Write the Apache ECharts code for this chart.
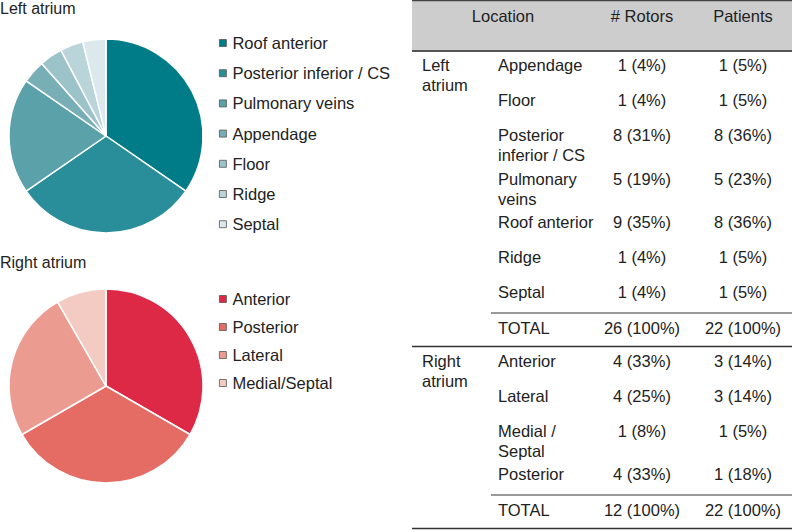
<!DOCTYPE html>
<html>
<head>
<meta charset="utf-8">
<script src="https://cdn.jsdelivr.net/npm/echarts@6/dist/echarts.min.js"></script>
<style>
html, body { margin: 0; padding: 0; background: #fff; }
#container { width: 792px; height: 532px; }
</style>
</head>
<body>
<div id="container"></div>
<script>
var dom = document.getElementById("container");
var myChart = echarts.init(dom, null, {renderer: 'svg'});

// pie data (rotor counts per location)
var laNames = ['Roof anterior', 'Posterior inferior / CS', 'Pulmonary veins', 'Appendage', 'Floor', 'Ridge', 'Septal'];
var laValues = [9, 8, 5, 1, 1, 1, 1];
var raNames = ['Anterior', 'Posterior', 'Lateral', 'Medial/Septal'];
var raValues = [4, 4, 3, 1];

// table
var tableHead = ['Location', '# Rotors', 'Patients'];
var laGroup = 'Left\natrium';
var laSites = ['Appendage', 'Floor', 'Posterior\ninferior / CS', 'Pulmonary\nveins', 'Roof anterior', 'Ridge', 'Septal'];
var laRotors = ['1 (4%)', '1 (4%)', '8 (31%)', '5 (19%)', '9 (35%)', '1 (4%)', '1 (4%)'];
var laPatients = ['1 (5%)', '1 (5%)', '8 (36%)', '5 (23%)', '8 (36%)', '1 (5%)', '1 (5%)'];
var laTotal = ['TOTAL', '26 (100%)', '22 (100%)'];
var raGroup = 'Right\natrium';
var raSites = ['Anterior', 'Lateral', 'Medial /\nSeptal', 'Posterior'];
var raRotors = ['4 (33%)', '4 (25%)', '1 (8%)', '4 (33%)'];
var raPatients = ['3 (14%)', '3 (14%)', '1 (5%)', '1 (18%)'];
var raTotal = ['TOTAL', '12 (100%)', '22 (100%)'];

// colours
var laColors = ['#007b88', '#2a8e9a', '#5aa1aa', '#78afb7', '#9cc3c9', '#bad5da', '#dbe9ec'];
var raColors = ['#dd2846', '#e56b65', '#ec9b91', '#f4cbc3'];

var FONT = 'Liberation Sans, Arial, Helvetica, sans-serif';
var TXT = '#222';

function pieData(names, values, colors) {
    var d = [];
    for (var i = 0; i < names.length; i++) {
        d.push({name: names[i], value: values[i], itemStyle: {color: colors[i]}});
    }
    return d;
}

function legendData(names) {
    return names.map(function (n) {
        return {name: n, itemStyle: {borderColor: '#555', borderWidth: 0.8}};
    });
}

// ---- table drawn with graphic elements ----
var graphics = [];
var tX = 412, tR = 792;
var colGroup = 422, colSite = 498, colRot = 642, colPat = 743;

function addText(str, x, y, align) {
    graphics.push({
        type: 'text', silent: true,
        style: {
            text: str, x: x, y: y - 10, fill: TXT,
            fontSize: 16.5, fontFamily: FONT,
            align: align || 'left', verticalAlign: 'top', lineHeight: 20
        }
    });
}
function addLine(x1, y, x2, color, w) {
    graphics.push({
        type: 'line', silent: true,
        shape: {x1: x1, y1: y, x2: x2, y2: y},
        style: {stroke: color, lineWidth: w}
    });
}

// header
graphics.push({
    type: 'rect', silent: true,
    shape: {x: tX, y: 0, width: tR - tX, height: 51},
    style: {fill: '#cdcdcd'}
});
addLine(tX, 0.5, tR, '#444', 1.5);
addLine(tX, 51, tR, '#555', 2);
addText(tableHead[0], 503, 16, 'center');
addText(tableHead[1], colRot, 16, 'center');
addText(tableHead[2], colPat, 16, 'center');

function section(y, group, sites, rot, pat, total) {
    addText(group, colGroup, y, 'left');
    var last = y;
    for (var i = 0; i < sites.length; i++) {
        addText(sites[i], colSite, y, 'left');
        addText(rot[i], colRot, y, 'center');
        addText(pat[i], colPat, y, 'center');
        last = y;
        y += sites[i].indexOf('\n') >= 0 ? 43.5 : 35;
    }
    var lineY = last + 21;
    addLine(491, lineY, tR, '#999', 2);
    var totY = lineY + 15;
    addText(total[0], colSite, totY, 'left');
    addText(total[1], colRot, totY, 'center');
    addText(total[2], colPat, totY, 'center');
    var endY = totY + 18.5;
    addLine(tX, endY, tR, '#333', 1.5);
    return endY;
}

var endLA = section(65, laGroup, laSites, laRotors, laPatients, laTotal);
section(endLA + 14, raGroup, raSites, raRotors, raPatients, raTotal);

option = {
    backgroundColor: '#fff',
    animation: false,
    title: [
        {text: 'Left atrium', left: 0, top: 0, padding: 0,
            textStyle: {fontSize: 16, fontWeight: 'normal', color: TXT, fontFamily: FONT}},
        {text: 'Right atrium', left: 0, top: 254, padding: 0,
            textStyle: {fontSize: 16, fontWeight: 'normal', color: TXT, fontFamily: FONT}}
    ],
    legend: [
        {
            data: legendData(laNames),
            orient: 'vertical', left: 219, top: 33, padding: 0,
            icon: 'rect', itemWidth: 7, itemHeight: 7, itemGap: 10.2,
            selectedMode: false,
            textStyle: {fontSize: 16.5, fontFamily: FONT, color: TXT, lineHeight: 20, padding: [0, 0, 0, 1]}
        },
        {
            data: legendData(raNames),
            orient: 'vertical', left: 219, top: 289, padding: 0,
            icon: 'rect', itemWidth: 7, itemHeight: 7, itemGap: 8,
            selectedMode: false,
            textStyle: {fontSize: 16.5, fontFamily: FONT, color: TXT, lineHeight: 20, padding: [0, 0, 0, 1]}
        }
    ],
    series: [
        {
            name: 'Left atrium', type: 'pie',
            center: [106, 136], radius: 97,
            startAngle: 90, clockwise: true, silent: true,
            label: {show: false}, labelLine: {show: false},
            itemStyle: {borderColor: '#fff', borderWidth: 1.5},
            data: pieData(laNames, laValues, laColors)
        },
        {
            name: 'Right atrium', type: 'pie',
            center: [106, 386], radius: 97,
            startAngle: 90, clockwise: true, silent: true,
            label: {show: false}, labelLine: {show: false},
            itemStyle: {borderColor: '#fff', borderWidth: 1.5},
            data: pieData(raNames, raValues, raColors)
        }
    ],
    graphic: graphics
};

if (option && typeof option === "object") {
    myChart.setOption(option, true);
}
</script>
</body>
</html>
